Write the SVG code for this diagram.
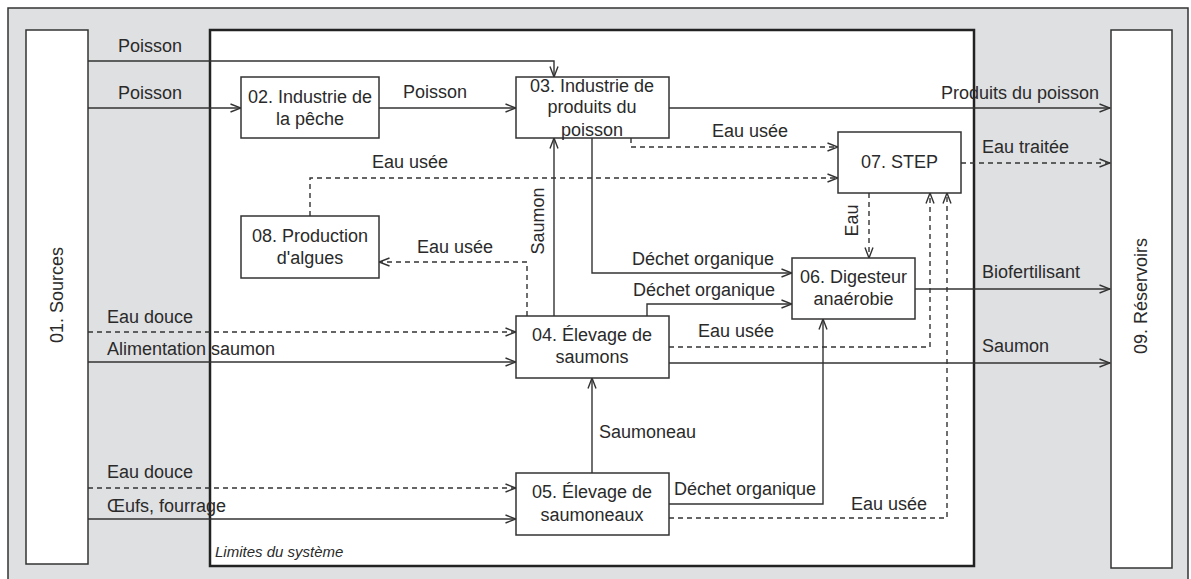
<svg xmlns="http://www.w3.org/2000/svg" width="1191" height="579" viewBox="0 0 1191 579">
<defs>
<style>
.box{fill:#fff;stroke:#333;stroke-width:1.5}
.t{font-family:"Liberation Sans",Arial,Helvetica,sans-serif;font-size:18px;fill:#2a2a2a}
.c{text-anchor:middle}
.ln{fill:none;stroke:#333;stroke-width:1.4;marker-end:url(#a)}
.ds{stroke-dasharray:5,4}
.na{marker-end:none}
</style>
<marker id="a" viewBox="0 0 12 10" refX="11.5" refY="5" markerWidth="12" markerHeight="10" markerUnits="userSpaceOnUse" orient="auto">
<path d="M1,1 L11.5,5 L1,9" fill="none" stroke="#333" stroke-width="1.4"/>
</marker>
</defs>
<rect x="0" y="0" width="1191" height="579" fill="#fff"/>
<rect x="8" y="8" width="1180" height="580" fill="#dfe0e2" stroke="#333" stroke-width="1.5"/>
<g id="boundary">
<rect x="210" y="30" width="764" height="536" fill="#fff" stroke="#222" stroke-width="2.5"/>
<text class="t" x="215" y="557" font-size="15" font-style="italic" style="font-size:15px">Limites du système</text>
</g>
<g id="n01">
<rect class="box" x="26" y="30" width="62" height="534"/>
<text class="t c" transform="translate(57,295) rotate(-90)" x="0" y="6">01. Sources</text>
</g>
<g id="n09">
<rect class="box" x="1111" y="30" width="61" height="538"/>
<text class="t c" transform="translate(1141,296) rotate(-90)" x="0" y="6">09. Réservoirs</text>
</g>
<g id="connectors">
<path class="ln" d="M88,61 H554 V77"/>
<path class="ln" d="M88,108 H241"/>
<path class="ln" d="M379,108 H516"/>
<path class="ln" d="M669,108 H1110"/>
<path class="ln ds" d="M631,138 V147 H838"/>
<path class="ln ds" d="M310,216 V178 H838"/>
<path class="ln ds" d="M961,163 H1110"/>
<path class="ln ds" d="M869,193 V258"/>
<path class="ln ds" d="M669,347 H930 V193"/>
<path class="ln ds" d="M669,518 H947 V193"/>
<path class="ln" d="M915,289 H1110"/>
<path class="ln" d="M669,363 H1110"/>
<path class="ln" d="M592,138 V273 H792"/>
<path class="ln" d="M647,316 V304 H792"/>
<path class="ln" d="M554,316 V138"/>
<path class="ln ds" d="M527,316 V262 H379"/>
<path class="ln ds" d="M88,332 H516"/>
<path class="ln" d="M88,362 H516"/>
<path class="ln" d="M592,473 V378"/>
<path class="ln ds" d="M88,488 H516"/>
<path class="ln" d="M88,519 H516"/>
<path class="ln" d="M669,504 H823 V319"/>
<text class="t" x="118" y="52">Poisson</text>
<text class="t" x="118" y="99">Poisson</text>
<text class="t" x="403" y="98">Poisson</text>
<text class="t" x="941" y="99">Produits du poisson</text>
<text class="t" x="712" y="137">Eau usée</text>
<text class="t" x="372" y="168">Eau usée</text>
<text class="t" x="982" y="153">Eau traitée</text>
<text class="t c" transform="translate(852,220.5) rotate(-90)" x="0" y="6">Eau</text>
<text class="t" x="698" y="337">Eau usée</text>
<text class="t" x="851" y="510">Eau usée</text>
<text class="t" x="982" y="278">Biofertilisant</text>
<text class="t" x="982" y="352">Saumon</text>
<text class="t" x="632" y="265">Déchet organique</text>
<text class="t" x="633" y="296">Déchet organique</text>
<text class="t c" transform="translate(538,221) rotate(-90)" x="0" y="6">Saumon</text>
<text class="t" x="417" y="253">Eau usée</text>
<text class="t" x="107" y="323">Eau douce</text>
<text class="t" x="107" y="355">Alimentation saumon</text>
<text class="t" x="599" y="438">Saumoneau</text>
<text class="t" x="107" y="478">Eau douce</text>
<text class="t" x="107" y="512">Œufs, fourrage</text>
<text class="t" x="674" y="495">Déchet organique</text>
</g>
<g id="n02">
<rect class="box" x="241" y="77" width="138" height="61"/>
<text class="t c" x="310" y="103">02. Industrie de</text>
<text class="t c" x="310" y="125">la pêche</text>
</g>
<g id="n03">
<rect class="box" x="516" y="77" width="153" height="61"/>
<text class="t c" x="592" y="92">03. Industrie de</text>
<text class="t c" x="592" y="113">produits du</text>
<text class="t c" x="592" y="135.5">poisson</text>
</g>
<g id="n07">
<rect class="box" x="838" y="132" width="123" height="61"/>
<text class="t c" x="899.5" y="168">07. STEP</text>
</g>
<g id="n08">
<rect class="box" x="241" y="216" width="138" height="62"/>
<text class="t c" x="310" y="242">08. Production</text>
<text class="t c" x="310" y="264">d'algues</text>
</g>
<g id="n06">
<rect class="box" x="792" y="258" width="123" height="61"/>
<text class="t c" x="853.5" y="283">06. Digesteur</text>
<text class="t c" x="853.5" y="305">anaérobie</text>
</g>
<g id="n04">
<rect class="box" x="516" y="316" width="153" height="62"/>
<text class="t c" x="592" y="341">04. Élevage de</text>
<text class="t c" x="592" y="363">saumons</text>
</g>
<g id="n05">
<rect class="box" x="516" y="473" width="153" height="62"/>
<text class="t c" x="592" y="498">05. Élevage de</text>
<text class="t c" x="592" y="520.5">saumoneaux</text>
</g>
</svg>
